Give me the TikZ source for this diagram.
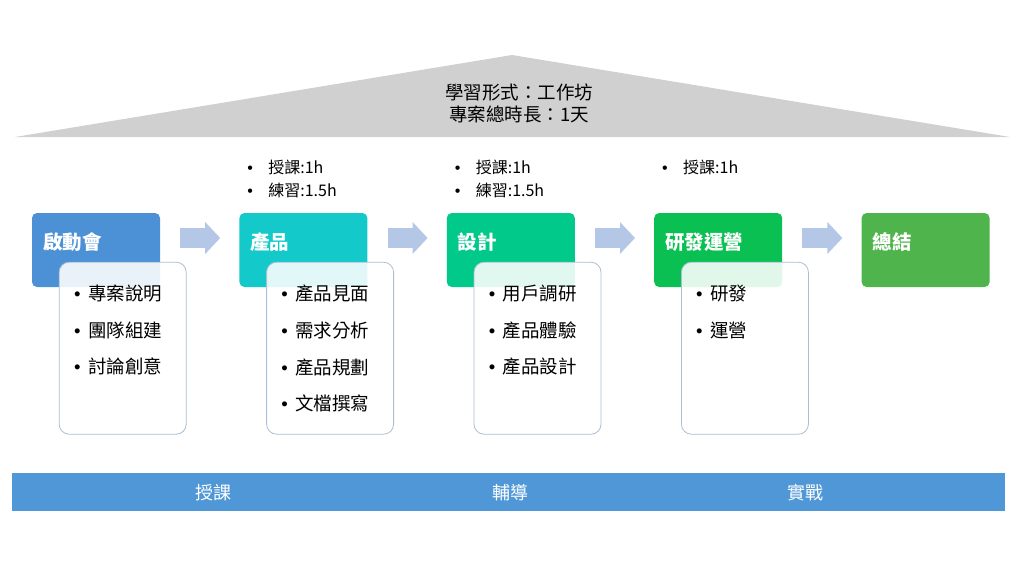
\documentclass[tikz,border=0pt]{standalone}
\usepackage{fontspec}
\setmainfont{Noto Sans CJK TC}
\newfontfamily\latinfont{Liberation Sans}
\usetikzlibrary{positioning,arrows.meta}
\definecolor{kickblue}{HTML}{4C91D5}
\definecolor{prodcyan}{HTML}{14C9C9}
\definecolor{designgreen}{HTML}{00C98A}
\definecolor{devgreen}{HTML}{0AC052}
\definecolor{wrapgreen}{HTML}{4FB44C}
\definecolor{arrowblue}{HTML}{B4C7E7}
\definecolor{bandblue}{HTML}{4F97D6}
\definecolor{roofgray}{HTML}{D0D0D0}
\definecolor{detailedge}{HTML}{A9BFD6}
\newcommand{\itembullet}{\makebox[14pt][l]{\latinfont\textbullet}}
\newcommand{\notebullet}{\makebox[21pt][l]{\latinfont\textbullet}}

\begin{document}
\begin{tikzpicture}[
    x=1pt, y=-1pt,
    node distance=79pt,
    phase/.style={rectangle, rounded corners=5pt, minimum width=128pt, minimum height=74pt, inner sep=0pt},
    phasetxt/.style={anchor=west, inner sep=0pt, text=white, font=\fontsize{19.5}{22}\selectfont\bfseries},
    detail/.style={rectangle, draw=detailedge, line width=0.8pt, fill=white, fill opacity=0.88, rounded corners=10pt, minimum width=127pt, minimum height=172pt, anchor=north west, inner sep=0pt},
    item/.style={anchor=north west, align=left, inner sep=0pt, font=\fontsize{18.5}{36.7}\selectfont},
    note/.style={anchor=north west, align=left, inner sep=0pt, font=\fontsize{16}{23}\selectfont},
    flow/.style={draw=arrowblue, line width=20pt, -{Triangle[length=15pt, width=31pt]}},
    band/.style={rectangle, fill=bandblue, minimum width=993pt, minimum height=38pt, inner sep=0pt},
    bandtxt/.style={text=white, inner sep=0pt, font=\fontsize{18}{22}\selectfont},
    rooftxt/.style={align=center, inner sep=0pt, font=\fontsize{18.5}{22}\selectfont},
]
\useasboundingbox (0,0) rectangle (1024,576);

% roof with the overall format
\fill[roofgray] (15,137) -- (512,55) -- (1010,137) -- cycle;
\node[rooftxt] (roof) at (519,103) {學習形式：工作坊\\專案總時長：1天};

% phase headers
\node[phase, fill=kickblue] (kick) at (96,250) {};
\node[phase, fill=prodcyan, right=of kick] (prod) {};
\node[phase, fill=designgreen, right=of prod] (design) {};
\node[phase, fill=devgreen, right=of design] (dev) {};
\node[phase, fill=wrapgreen, right=of dev] (wrap) {};

\node[phasetxt] (kickt) at ([xshift=11pt,yshift=8pt]kick.west) {啟動會};
\node[phasetxt] (prodt) at ([xshift=11pt,yshift=8pt]prod.west) {產品};
\node[phasetxt] (designt) at ([xshift=11pt,yshift=8pt]design.west) {設計};
\node[phasetxt] (devt) at ([xshift=11pt,yshift=8pt]dev.west) {研發運營};
\node[phasetxt] (wrapt) at ([xshift=11pt,yshift=8pt]wrap.west) {總結};

% flow arrows between the headers
\draw[flow] ([xshift=20pt,yshift=12pt]kick.east) -- ([xshift=-19pt,yshift=12pt]prod.west);
\draw[flow] ([xshift=20pt,yshift=12pt]prod.east) -- ([xshift=-19pt,yshift=12pt]design.west);
\draw[flow] ([xshift=20pt,yshift=12pt]design.east) -- ([xshift=-19pt,yshift=12pt]dev.west);
\draw[flow] ([xshift=20pt,yshift=12pt]dev.east) -- ([xshift=-19pt,yshift=12pt]wrap.west);

% detail cards over the headers
\node[detail] (kickd) at ([xshift=27pt,yshift=-49pt]kick.north west) {};
\node[detail] (prodd) at ([xshift=27pt,yshift=-49pt]prod.north west) {};
\node[detail] (designd) at ([xshift=27pt,yshift=-49pt]design.north west) {};
\node[detail] (devd) at ([xshift=27pt,yshift=-49pt]dev.north west) {};

\node[item] (kicki) at ([xshift=15pt,yshift=-23pt]kickd.north west) {\itembullet 專案說明\\\itembullet 團隊組建\\\itembullet 討論創意};
\node[item] (prodi) at ([xshift=15pt,yshift=-23pt]prodd.north west) {\itembullet 產品見面\\\itembullet 需求分析\\\itembullet 產品規劃\\\itembullet 文檔撰寫};
\node[item] (designi) at ([xshift=15pt,yshift=-23pt]designd.north west) {\itembullet 用戶調研\\\itembullet 產品體驗\\\itembullet 產品設計};
\node[item] (devi) at ([xshift=15pt,yshift=-23pt]devd.north west) {\itembullet 研發\\\itembullet 運營};

% time notes above the headers
\node[note] (prodn) at ([xshift=8pt,yshift=53pt]prod.north west) {\notebullet 授課:1h\\\notebullet 練習:1.5h};
\node[note] (designn) at ([xshift=8pt,yshift=53pt]design.north west) {\notebullet 授課:1h\\\notebullet 練習:1.5h};
\node[note] (devn) at ([xshift=8pt,yshift=53pt]dev.north west) {\notebullet 授課:1h};

% bottom band
\node[band] (band) at (508.5,492) {};
\node[bandtxt] (teach) at (213,493) {授課};
\node[bandtxt] (coach) at (510,493) {輔導};
\node[bandtxt] (practice) at (805,493) {實戰};
\end{tikzpicture}
\end{document}
